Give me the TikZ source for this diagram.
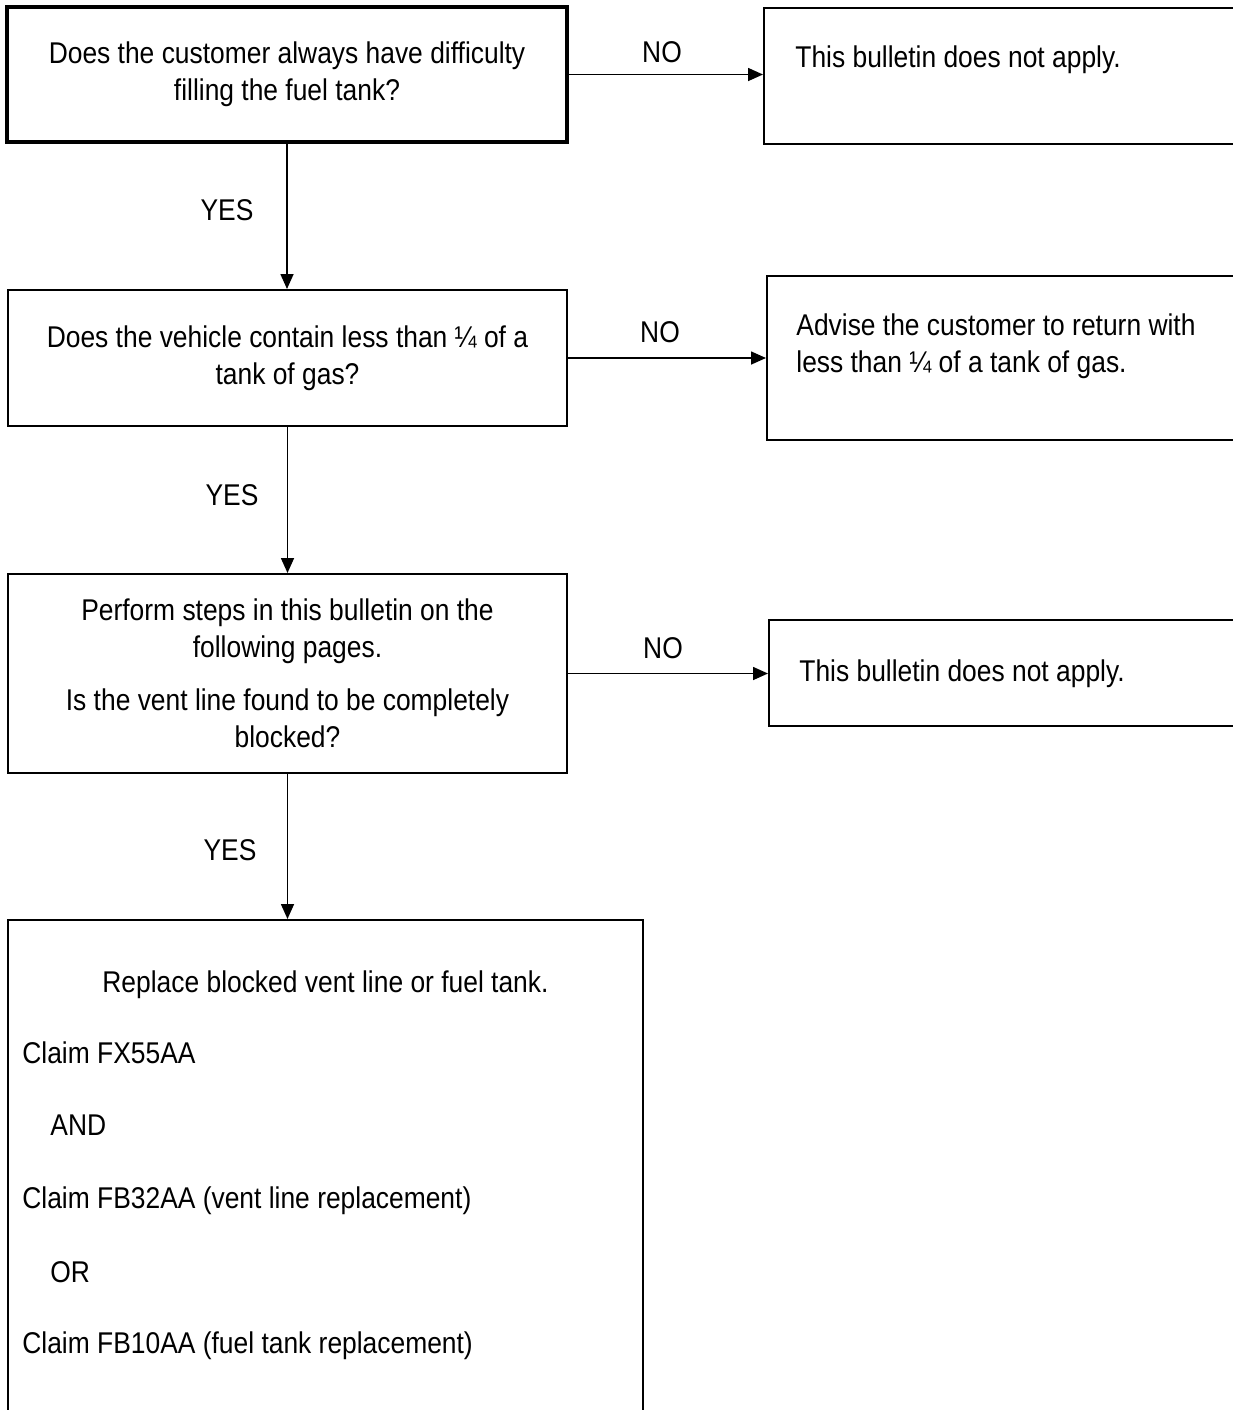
\documentclass[tikz,border=0pt]{standalone}
\usepackage{fontspec}
\setmainfont[FakeStretch=0.88]{Liberation Sans}
\usetikzlibrary{arrows.meta,positioning}

\begin{document}
\begin{tikzpicture}[x=0.5pt,y=-0.5pt]
    \tikzstyle{every node}=[font=\fontsize{15}{18.5}\selectfont]
    \tikzstyle{box}=[draw, line width=1pt, inner sep=0pt, align=center]
    \tikzstyle{firstbox}=[box, line width=1.8pt]
    \tikzstyle{txt}=[inner sep=0pt, align=left]
    \tikzstyle{lbl}=[inner sep=0pt]
    \tikzstyle{arr}=[line width=0.8pt, -{Triangle[length=7.5pt,width=6.5pt]}]

    \useasboundingbox (0,0) rectangle (1233,1410);
    \clip (0,0) rectangle (1233,1410);

    % questions on the left
    \node[firstbox, minimum width=280pt, minimum height=67.5pt] (q1) at (287,74.5)
        {Does the customer always have difficulty\\filling the fuel tank?};
    \node[box, minimum width=279.5pt, minimum height=68pt] (q2) at (287.5,358)
        {Does the vehicle contain less than ¼ of a\\tank of gas?};
    \node[box, minimum width=279.5pt, minimum height=99.5pt] (q3) at (287.5,673.5)
        {Perform steps in this bulletin on the\\following pages.\\[0.55em]Is the vent line found to be completely\\blocked?};
    \node[box, minimum width=317.5pt, minimum height=290pt] (q4) at (325.5,1210) {};

    % answers on the right (cut by the page edge)
    \node[box, minimum width=268pt, minimum height=68pt] (r1) at (1032,76) {};
    \node[box, minimum width=266.5pt, minimum height=82pt] (r2) at (1033.5,358) {};
    \node[box, minimum width=265.5pt, minimum height=53pt] (r3) at (1034.5,673) {};

    \node[txt, anchor=base west] (r1t) at ([shift={(32,60)}]r1.north west)
        {This bulletin does not apply.};
    \node[txt, anchor=base west] (r2t) at ([shift={(30,97)}]r2.north west)
        {Advise the customer to return with\\less than ¼ of a tank of gas.};
    \node[txt, anchor=base west] (r3t) at ([shift={(31,62)}]r3.north west)
        {This bulletin does not apply.};

    % text of the last box
    \node[txt, anchor=base] (q4a) at (q4.north |- 0,992) {Replace blocked vent line or fuel tank.};
    \node[txt, anchor=base west] (q4b) at (22,1063) {Claim FX55AA};
    \node[txt, anchor=base west] (q4c) at (50,1135) {AND};
    \node[txt, anchor=base west] (q4d) at (22,1208) {Claim FB32AA (vent line replacement)};
    \node[txt, anchor=base west] (q4e) at (50,1282) {OR};
    \node[txt, anchor=base west] (q4f) at (22,1353) {Claim FB10AA (fuel tank replacement)};

    % connectors
    \draw[arr] (q1.east) -- (q1.east -| r1.west);
    \draw[arr] (q2.east) -- (q2.east -| r2.west);
    \draw[arr] (q3.east) -- (q3.east -| r3.west);
    \draw[arr] (q1.south) -- (q1.south |- q2.north);
    \draw[arr] (q2.south) -- (q2.south |- q3.north);
    \draw[arr] (q3.south) -- (q3.south |- q4.north);

    \node[lbl] (no1) at (662,52) {NO};
    \node[lbl] (no2) at (660,332) {NO};
    \node[lbl] (no3) at (663,648) {NO};
    \node[lbl] (yes1) at (227,210) {YES};
    \node[lbl] (yes2) at (232,495) {YES};
    \node[lbl] (yes3) at (230,850) {YES};
\end{tikzpicture}
\end{document}
